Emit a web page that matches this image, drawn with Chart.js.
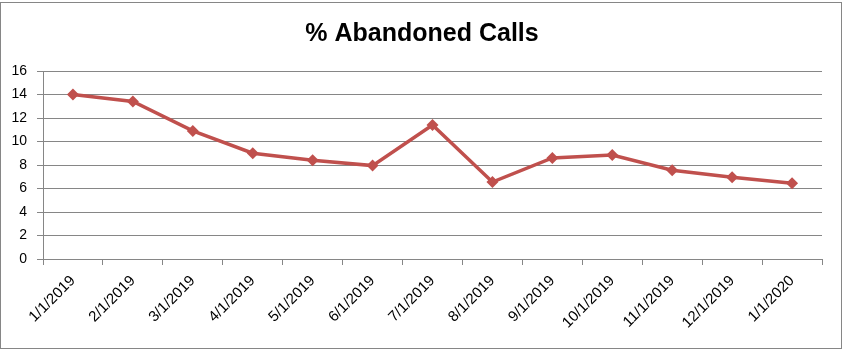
<!DOCTYPE html>
<html lang="en">
<head>
  <meta charset="UTF-8">
  <title>% Abandoned Calls</title>
  <style>
    html, body { margin: 0; padding: 0; background: #fff; }
    #wrap { position: relative; width: 844px; height: 351px; }
    #frame {
      position: absolute; left: 0; top: 2px; width: 840px; height: 345px;
      border: 1px solid #868686; box-sizing: content-box;
    }
    canvas { position: absolute; left: 0; top: 0; }
  </style>
</head>
<body>
  <div id="wrap">
    <div id="frame"></div>
    <canvas id="myChart" width="844" height="351"></canvas>
  </div>

  <script src="https://cdn.jsdelivr.net/npm/chart.js"></script>
  <script>
    const labels = ['1/1/2019', '2/1/2019', '3/1/2019', '4/1/2019', '5/1/2019', '6/1/2019',
      '7/1/2019', '8/1/2019', '9/1/2019', '10/1/2019', '11/1/2019', '12/1/2019', '1/1/2020'];
    const abandoned = [14.0, 13.4, 10.9, 9.0, 8.4, 7.95, 11.4, 6.55, 8.6, 8.85, 7.55, 6.95, 6.45];
    const yTicks = [0, 2, 4, 6, 8, 10, 12, 14, 16];

    const gridGray = '#868686';
    const font = 'Liberation Sans';

    const ctx = document.getElementById('myChart');
    const chart = new Chart(ctx, {
      type: 'line',
      data: {
        labels,
        datasets: [{
          label: '% Abandoned Calls',
          data: abandoned,
          borderColor: '#C0504D',
          backgroundColor: '#C0504D',
          borderWidth: 3.5,
          pointStyle: 'rectRot',
          pointRadius: 6,
          pointBorderWidth: 0,
          tension: 0,
          fill: false
        }]
      },
      options: {
        responsive: false,
        animation: false,
        layout: { padding: 0 },
        plugins: {
          legend: { display: false },
          tooltip: { enabled: false },
          title: {
            display: true,
            text: '% Abandoned Calls',
            color: '#000',
            font: { family: font, size: 25, weight: 'bold' },
            padding: { top: 19, bottom: 22 }
          }
        },
        scales: {
          x: {
            offset: true,
            grid: {
              offset: true,
              drawOnChartArea: false,
              drawTicks: true,
              tickLength: 6,
              color: gridGray,
              lineWidth: 1
            },
            border: { display: true, color: gridGray, width: 1 },
            ticks: {
              color: '#000',
              font: { family: font, size: 15 },
              minRotation: 45,
              maxRotation: 45,
              autoSkip: false,
              padding: 7
            },
            afterFit: (s) => { s.height = 92; }
          },
          y: {
            min: 0,
            max: 16,
            afterBuildTicks: (s) => { s.ticks = yTicks.map(v => ({ value: v })); },
            grid: { color: gridGray, lineWidth: 1, tickLength: 6 },
            border: { display: true, color: gridGray, width: 1 },
            ticks: {
              color: '#000',
              font: { family: font, size: 14 },
              padding: 10
            },
            afterFit: (s) => { s.width = 43; }
          },
          // empty right-hand box, keeps the plot off the right edge
          yRight: {
            position: 'right',
            display: true,
            grid: { display: false },
            border: { display: false },
            ticks: { display: false },
            afterFit: (s) => { s.width = 22; }
          }
        }
      }
    });
  </script>
</body>
</html>
